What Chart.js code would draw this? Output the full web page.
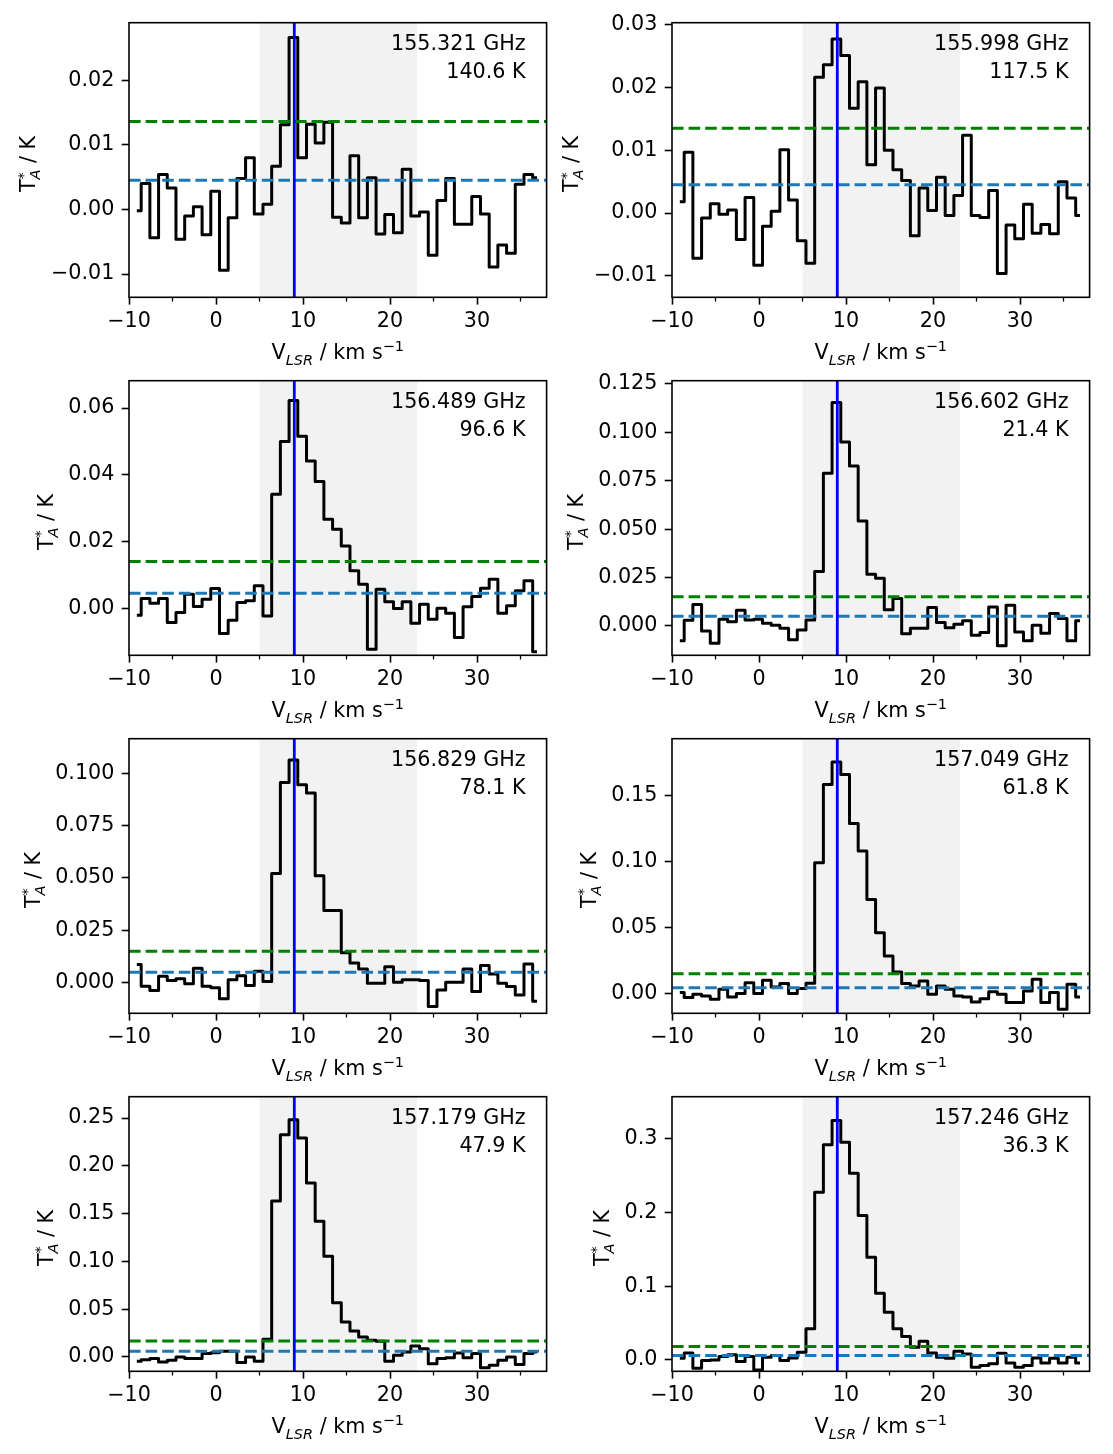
<!DOCTYPE html>
<html>
<head>
<meta charset="utf-8">
<script src="https://cdn.jsdelivr.net/npm/chart.js@4.4.1/dist/chart.umd.min.js"></script>
<style>
    body { margin: 0; background: #fff; }
    #fig { position: relative; width: 1113px; height: 1454px; overflow: hidden; }
    #fig canvas { position: absolute; }
</style>
</head>
<body>
<div id="fig"></div>
<script>
// channel velocities (km/s), shared by all spectra
const velocity = [-9.1, -8.1, -7.1, -6.1, -5.1, -4.1, -3.1, -2.1, -1.1, -0.1, 0.9, 1.9, 2.9, 3.9, 4.9,
    5.9, 6.9, 7.9, 8.9, 9.9, 10.9, 11.9, 12.9, 13.9, 14.9, 15.9, 16.9, 17.9, 18.9, 19.9, 20.9, 21.9,
    22.9, 23.9, 24.9, 25.9, 26.9, 27.9, 28.9, 29.9, 30.9, 31.9, 32.9, 33.9, 34.9, 35.9, 36.9];

const spec1 = [-0.0002, 0.0040, -0.0044, 0.0054, 0.0033, -0.0046, -0.0010, 0.0004, -0.0039, 0.0028,
    -0.0094, -0.0013, 0.0048, 0.0080, -0.0007, 0.0008, 0.0067, 0.0131, 0.0266, 0.0080, 0.0132, 0.0103,
    0.0135, -0.0012, -0.0021, 0.0083, -0.0013, 0.0049, -0.0038, -0.0008, -0.0036, 0.0062, -0.0010,
    -0.0004, -0.0071, 0.0014, 0.0048, -0.0023, -0.0023, 0.0020, -0.0007, -0.0089, -0.0055, -0.0068,
    0.0039, 0.0054, 0.0049];
const spec2 = [0.0018, 0.0097, -0.0072, -0.0008, 0.0015, -0.0002, 0.0005, -0.0042, 0.0025, -0.0083,
    -0.0021, 0.0003, 0.0101, 0.0021, -0.0044, -0.0080, 0.0216, 0.0236, 0.0277, 0.0251, 0.0167, 0.0209,
    0.0077, 0.0199, 0.0100, 0.0069, 0.0052, -0.0036, 0.0040, 0.0004, 0.0057, -0.0004, 0.0028, 0.0124,
    -0.0004, -0.0007, 0.0036, -0.0096, -0.0019, -0.0041, 0.0014, -0.0032, -0.0018, -0.0033, 0.0050,
    0.0024, -0.0004];
const spec3 = [-0.0020, 0.0030, 0.0016, 0.0030, -0.0042, -0.0012, 0.0043, 0.0006, 0.0028, 0.0060,
    -0.0075, -0.0035, 0.0018, 0.0023, 0.0068, -0.0022, 0.0342, 0.0500, 0.0623, 0.0516, 0.0442, 0.0380,
    0.0267, 0.0237, 0.0187, 0.0113, 0.0073, -0.0122, 0.0058, 0.0020, 0.0000, 0.0020, -0.0044, 0.0013,
    -0.0032, 0.0001, -0.0014, -0.0087, 0.0005, 0.0036, 0.0061, 0.0088, -0.0014, 0.0008, 0.0053,
    0.0083, -0.0129];
const spec4 = [-0.0077, 0.0029, 0.0110, -0.0026, -0.0090, 0.0034, 0.0021, 0.0081, 0.0031, 0.0034,
    0.0014, 0.0003, -0.0012, -0.0072, -0.0021, 0.0031, 0.0281, 0.0789, 0.1154, 0.0950, 0.0826, 0.0542,
    0.0267, 0.0246, 0.0083, 0.0141, -0.0040, -0.0012, -0.0012, 0.0095, 0.0017, -0.0009, 0.0009, 0.0026,
    -0.0048, -0.0034, 0.0098, -0.0103, 0.0107, -0.0031, -0.0077, 0.0003, -0.0038, 0.0064, 0.0038,
    -0.0077, 0.0026];
const spec5 = [0.0086, -0.0018, -0.0038, 0.0030, 0.0010, 0.0018, -0.0006, 0.0068, -0.0018, -0.0025,
    -0.0078, 0.0013, 0.0033, -0.0014, 0.0054, 0.0005, 0.0522, 0.0957, 0.1064, 0.0946, 0.0906, 0.0511,
    0.0344, 0.0344, 0.0142, 0.0094, 0.0065, -0.0003, -0.0003, 0.0076, 0.0002, 0.0013, 0.0014, 0.0010,
    -0.0115, -0.0035, 0.0002, 0.0002, 0.0065, -0.0043, 0.0081, 0.0041, -0.0003, -0.0019, -0.0059,
    0.0089, -0.0089];
const spec6 = [0.0008, -0.0030, -0.0005, -0.0018, -0.0043, 0.0033, -0.0025, 0.0000, 0.0083, 0.0000,
    0.0101, 0.0050, 0.0076, 0.0000, 0.0038, 0.0078, 0.0991, 0.1583, 0.1754, 0.1659, 0.1288, 0.1079,
    0.0713, 0.0461, 0.0285, 0.0164, 0.0076, 0.0058, 0.0096, -0.0005, 0.0058, 0.0033, -0.0018, -0.0025,
    -0.0063, -0.0038, 0.0015, -0.0005, -0.0068, -0.0068, 0.0020, 0.0108, -0.0068, 0.0008, -0.0118,
    0.0071, -0.0025];
const spec7 = [-0.0045, -0.0028, -0.0017, -0.0052, -0.0035, 0.0000, -0.0017, -0.0017, 0.0035, 0.0045,
    0.0059, 0.0059, -0.0059, 0.0000, -0.0045, 0.0185, 0.1632, 0.2326, 0.2483, 0.2291, 0.1820, 0.1419,
    0.1053, 0.0568, 0.0366, 0.0272, 0.0209, 0.0174, 0.0164, -0.0045, 0.0017, 0.0052, 0.0115, 0.0087,
    -0.0070, -0.0017, -0.0007, 0.0042, -0.0007, 0.0035, -0.0112, -0.0087, -0.0035, 0.0000, -0.0080,
    0.0035, 0.0052];
const spec8 = [0.0023, 0.0095, -0.0113, -0.0009, 0.0000, 0.0045, 0.0068, -0.0023, 0.0045, -0.0136,
    0.0036, 0.0059, -0.0009, 0.0027, 0.0104, 0.0421, 0.2276, 0.2919, 0.3249, 0.2955, 0.2534, 0.1959,
    0.1394, 0.0905, 0.0647, 0.0421, 0.0317, 0.0172, 0.0253, 0.0095, 0.0036, 0.0023, 0.0118, 0.0081,
    -0.0100, -0.0077, -0.0054, 0.0090, -0.0041, -0.0100, -0.0077, 0.0027, -0.0041, 0.0023, -0.0041,
    0.0036, -0.0041];
const spectra = [spec1, spec2, spec3, spec4, spec5, spec6, spec7, spec8];

const freqLabels = ["155.321 GHz", "155.998 GHz", "156.489 GHz", "156.602 GHz",
    "156.829 GHz", "157.049 GHz", "157.179 GHz", "157.246 GHz"];
const tempLabels = ["140.6 K", "117.5 K", "96.6 K", "21.4 K", "78.1 K", "61.8 K", "47.9 K", "36.3 K"];

// dashed levels (green = upper, blue = lower)
const greenLevels = [0.0136, 0.0135, 0.0141, 0.0150, 0.0150, 0.0151, 0.0167, 0.0181];
const blueLevels = [0.0045, 0.0045, 0.0046, 0.0050, 0.0049, 0.0045, 0.0059, 0.0059];

const yMins = [-0.0136, -0.0134, -0.0140, -0.0152, -0.0147, -0.0149, -0.0150, -0.0155];
const yMaxs = [0.0289, 0.0303, 0.0682, 0.1267, 0.1166, 0.1930, 0.2723, 0.3572];
const yTickVals = [
    [-0.01, 0, 0.01, 0.02],
    [-0.01, 0, 0.01, 0.02, 0.03],
    [0, 0.02, 0.04, 0.06],
    [0, 0.025, 0.05, 0.075, 0.1, 0.125],
    [0, 0.025, 0.05, 0.075, 0.1],
    [0, 0.05, 0.1, 0.15],
    [0, 0.05, 0.1, 0.15, 0.2, 0.25],
    [0, 0.1, 0.2, 0.3],
];
const yTickDecimals = [2, 2, 2, 3, 3, 2, 2, 1];

const xRange = [-10, 38];
const xTickVals = [-10, 0, 10, 20, 30];
const xMinorVals = [-5, 5, 15, 25, 35];
const lineVelocity = 9.0;
const shadeRange = [5.0, 23.1];

// layout (px)
const CANVAS_W = 556;
const CANVAS_H = 380;
const COL_STEP = 543;
const ROW_STEP = 358;
const PLOT_LEFT = 129;
const PLOT_RIGHT = 546.6;
const PLOT_TOP = 22.7;
const PLOT_BOTTOM = 297.3;
const X_AXIS_H = 60;

const FAMILY = "'DejaVu Sans', sans-serif";
const FS = 20.7;
const LW = 3.0;
const TICK_LEN = 7.3;

function fmt(v, dec) {
    return Number(v).toFixed(dec).replace("-", "\u2212");
}

function drawMathRun(ctx, parts, x, y) {
    // parts: {t, scale, italic, dy, noAdvance}
    let cx = x;
    for (const p of parts) {
        const size = FS * (p.scale || 1);
        ctx.font = (p.italic ? "italic " : "") + size + "px " + FAMILY;
        ctx.fillText(p.t, cx, y + (p.dy || 0));
        if (!p.noAdvance) {
            cx += ctx.measureText(p.t).width;
        }
    }
    return cx - x;
}

function measureRun(ctx, parts) {
    let w = 0;
    for (const p of parts) {
        const size = FS * (p.scale || 1);
        ctx.font = (p.italic ? "italic " : "") + size + "px " + FAMILY;
        if (!p.noAdvance) {
            w += ctx.measureText(p.t).width;
        }
    }
    return w;
}

const yLabelParts = [
    { t: "T" },
    { t: "*", scale: 0.7, dy: -0.36 * FS, noAdvance: true },
    { t: "A", scale: 0.7, italic: true, dy: 0.24 * FS },
    { t: " / K" },
];
const xLabelParts = [
    { t: "V" },
    { t: "LSR", scale: 0.7, italic: true, dy: 0.27 * FS },
    { t: " / km s" },
    { t: "\u22121", scale: 0.7, dy: -0.38 * FS },
];

const panelDecor = {
    id: "panelDecor",
    beforeDatasetsDraw(chart) {
        const { ctx, chartArea } = chart;
        const xs = chart.scales.x;
        const x0 = xs.getPixelForValue(shadeRange[0]);
        const x1 = xs.getPixelForValue(shadeRange[1]);
        ctx.save();
        ctx.fillStyle = "#f2f2f2";
        ctx.fillRect(x0, chartArea.top, x1 - x0, chartArea.bottom - chartArea.top);
        ctx.restore();
    },
    afterDatasetsDraw(chart) {
        const { ctx, chartArea } = chart;
        const idx = chart.options.plugins.panelDecor.index;
        const xs = chart.scales.x;
        const ys = chart.scales.y;
        ctx.save();
        // frame
        ctx.strokeStyle = "#000";
        ctx.lineWidth = 1.6;
        ctx.strokeRect(chartArea.left, chartArea.top, chartArea.right - chartArea.left, chartArea.bottom - chartArea.top);
        // minor x ticks
        ctx.lineWidth = 1.25;
        ctx.beginPath();
        for (const v of xMinorVals) {
            const px = xs.getPixelForValue(v);
            ctx.moveTo(px, chartArea.bottom);
            ctx.lineTo(px, chartArea.bottom + 4.2);
        }
        ctx.stroke();

        ctx.fillStyle = "#000";
        // annotations
        ctx.font = FS + "px " + FAMILY;
        ctx.textAlign = "right";
        ctx.textBaseline = "alphabetic";
        ctx.fillText(freqLabels[idx], chartArea.right - 21, chartArea.top + 27.6);
        ctx.fillText(tempLabels[idx], chartArea.right - 21, chartArea.top + 54.8);

        // x label
        ctx.textAlign = "left";
        const xw = measureRun(ctx, xLabelParts);
        drawMathRun(ctx, xLabelParts, (chartArea.left + chartArea.right) / 2 - xw / 2, chartArea.bottom + 62);

        // y label, placed left of the widest tick label
        ctx.font = FS + "px " + FAMILY;
        let maxW = 0;
        for (const t of ys.ticks) {
            maxW = Math.max(maxW, ctx.measureText(t.label).width);
        }
        const bx = chartArea.left - 2 * TICK_LEN - maxW - 15.6;
        const cy = (chartArea.top + chartArea.bottom) / 2 + 4;
        const yw = measureRun(ctx, yLabelParts);
        ctx.translate(bx, cy);
        ctx.rotate(-Math.PI / 2);
        drawMathRun(ctx, yLabelParts, -yw / 2, 0);
        ctx.restore();
    },
};

function makePanel(i) {
    const col = i % 2;
    const row = Math.floor(i / 2);
    const canvas = document.createElement("canvas");
    canvas.width = CANVAS_W;
    canvas.height = CANVAS_H;
    canvas.style.left = col * COL_STEP + "px";
    canvas.style.top = row * ROW_STEP + "px";
    document.getElementById("fig").appendChild(canvas);

    const spectrum = velocity.map((v, k) => ({ x: v, y: spectra[i][k] }));
    const dash = [11.6, 5.0];

    new Chart(canvas.getContext("2d"), {
        type: "line",
        data: {
            datasets: [
                {
                    data: [{ x: lineVelocity, y: yMins[i] }, { x: lineVelocity, y: yMaxs[i] }],
                    borderColor: "#0000ff",
                    borderWidth: 2.8,
                    order: 0,
                },
                {
                    data: [{ x: xRange[0], y: greenLevels[i] }, { x: xRange[1], y: greenLevels[i] }],
                    borderColor: "#008000",
                    borderWidth: LW,
                    borderDash: dash,
                    order: 1,
                },
                {
                    data: [{ x: xRange[0], y: blueLevels[i] }, { x: xRange[1], y: blueLevels[i] }],
                    borderColor: "#1f77b4",
                    borderWidth: LW,
                    borderDash: dash,
                    order: 1,
                },
                {
                    data: spectrum,
                    stepped: "middle",
                    borderColor: "#000",
                    borderWidth: LW,
                    borderJoinStyle: "round",
                    order: 2,
                },
            ],
        },
        options: {
            responsive: false,
            animation: false,
            devicePixelRatio: 1,
            elements: { point: { radius: 0 }, line: { tension: 0, fill: false } },
            layout: {
                padding: {
                    left: 0,
                    top: PLOT_TOP,
                    right: CANVAS_W - PLOT_RIGHT,
                    bottom: CANVAS_H - PLOT_BOTTOM - X_AXIS_H,
                },
            },
            scales: {
                x: {
                    type: "linear",
                    min: xRange[0],
                    max: xRange[1],
                    afterBuildTicks: (s) => {
                        s.ticks = xTickVals.map((v) => ({ value: v }));
                    },
                    afterFit: (s) => {
                        s.height = X_AXIS_H;
                    },
                    grid: { drawOnChartArea: false, drawTicks: true, tickLength: TICK_LEN, tickColor: "#000", tickWidth: 1.6 },
                    border: { display: false },
                    ticks: {
                        color: "#000",
                        font: { family: FAMILY, size: FS },
                        padding: 5,
                        maxRotation: 0,
                        autoSkip: false,
                        callback: (v) => fmt(v, 0),
                    },
                },
                y: {
                    type: "linear",
                    min: yMins[i],
                    max: yMaxs[i],
                    afterBuildTicks: (s) => {
                        s.ticks = yTickVals[i].map((v) => ({ value: v }));
                    },
                    afterFit: (s) => {
                        s.width = PLOT_LEFT;
                    },
                    grid: { drawOnChartArea: false, drawTicks: true, tickLength: TICK_LEN, tickColor: "#000", tickWidth: 1.6 },
                    border: { display: false },
                    ticks: {
                        color: "#000",
                        font: { family: FAMILY, size: FS },
                        padding: TICK_LEN,
                        autoSkip: false,
                        callback: (v) => fmt(v, yTickDecimals[i]),
                    },
                },
            },
            plugins: {
                legend: { display: false },
                tooltip: { enabled: false },
                panelDecor: { index: i },
            },
        },
        plugins: [panelDecor],
    });
}

for (let i = 0; i < spectra.length; i++) {
    makePanel(i);
}
</script>
</body>
</html>
